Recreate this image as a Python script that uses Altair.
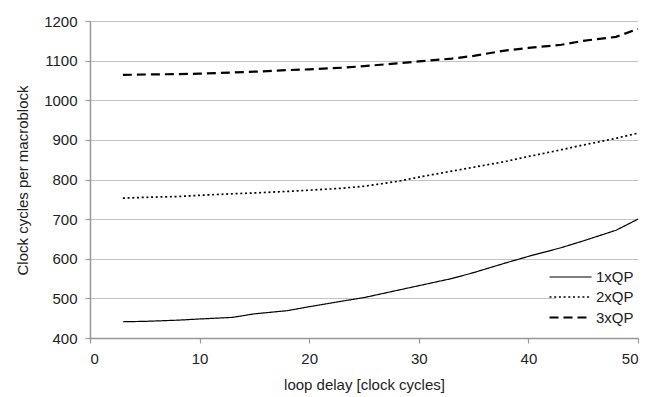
import altair as alt
import pandas as pd

x_vals = [3, 5, 8, 10, 13, 15, 18, 20, 23, 25, 28, 30, 33, 35, 38, 40, 43, 45, 48, 50]
qp1 = [441, 442, 445, 448, 452, 461, 469, 479, 493, 502, 520, 532, 550, 565, 590, 606, 628, 645, 672, 700]
qp2 = [753, 755, 757, 760, 764, 766, 770, 773, 778, 783, 795, 806, 821, 831, 846, 858, 875, 887, 904, 917]
qp3 = [1064, 1065, 1066, 1067, 1070, 1072, 1076, 1078, 1082, 1086, 1093, 1098, 1105, 1112, 1126, 1132, 1140, 1150, 1160, 1180]
series = ["1xQP", "2xQP", "3xQP"]

rows = []
for name, vals in zip(series, [qp1, qp2, qp3]):
    for xv, yv in zip(x_vals, vals):
        rows.append({"delay": xv, "cycles": yv, "series": name})
df = pd.DataFrame(rows)

FONT = "Liberation Sans"
legend = alt.Legend(
    title=None, orient="none", legendX=466, legendY=242,
    symbolType="M-3,0H3", symbolSize=196, labelFontSize=15, labelFont=FONT,
    labelColor="#222", fillColor="white", padding=6, rowPadding=4,
    labelOffset=17, symbolStrokeColor="black",
)

chart = alt.Chart(df).mark_line(color="black").encode(
    x=alt.X("delay:Q", scale=alt.Scale(domain=[0, 50], nice=False),
            axis=alt.Axis(values=[0, 10, 20, 30, 40, 50], grid=False,
                          title="loop delay [clock cycles]", titleY=46,
                          titleBaseline="middle", labelPadding=8)),
    y=alt.Y("cycles:Q", scale=alt.Scale(domain=[400, 1200], nice=False),
            axis=alt.Axis(values=list(range(400, 1201, 100)), grid=True, format="d",
                          title="Clock cycles per macroblock", titleX=-68, titleY=159,
                          titleBaseline="middle", labelPadding=8)),
    strokeDash=alt.StrokeDash("series:N", scale=alt.Scale(domain=series, range=[[1, 0], [2, 2.7], [9, 5]]), legend=legend),
    strokeWidth=alt.StrokeWidth("series:N", scale=alt.Scale(domain=series, range=[1.2, 2.2, 3.2]), legend=legend),
    detail="series:N",
).properties(
    width=548, height=317,
    autosize=alt.AutoSizeParams(type="none"),
    padding={"left": 82, "top": 13, "right": 11, "bottom": 58},
).configure_view(stroke=None).configure_axis(
    domainColor="#999", tickColor="#999", gridColor="#c4c4c4", tickSize=5,
    labelFont=FONT, titleFont=FONT, labelFontSize=15, titleFontSize=15,
    labelColor="#222", titleColor="#222", titleFontWeight="normal",
    domainWidth=1.5, tickWidth=1.2, gridWidth=1.2,
)

chart.save("out.html", embed_options={"renderer": "svg", "actions": False})
